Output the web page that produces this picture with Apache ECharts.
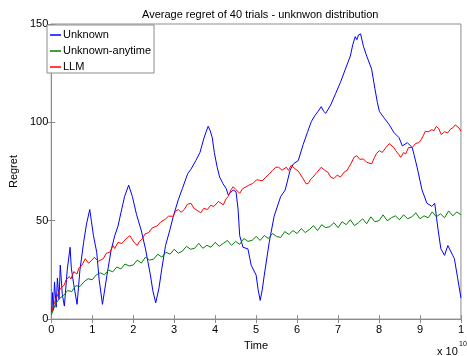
<!DOCTYPE html>
<html>
<head>
<meta charset="utf-8">
<title>Average regret</title>
<script src="https://cdn.jsdelivr.net/npm/echarts@6/dist/echarts.min.js"></script>
<style>
  html, body { margin: 0; padding: 0; background: #fff; }
  #root { width: 467px; height: 356px; }
</style>
</head>
<body>
<div id="root"></div>
<script>
// time axis in units of 1e10
var xTicks = [0, 1, 2, 3, 4, 5, 6, 7, 8, 9, 10];
var yTicks = [0, 50, 100, 150];

// Unknown (blue)
var unknownT = [0.01, 0.03, 0.05, 0.08, 0.12, 0.15, 0.19, 0.22, 0.27, 0.32, 0.39, 0.46, 0.49, 0.55, 0.63, 0.70, 0.79, 0.86, 0.94, 0.98,
  1.03, 1.11, 1.17, 1.25, 1.36, 1.46, 1.55, 1.63, 1.70, 1.79, 1.89, 1.98, 2.08, 2.20, 2.30, 2.42, 2.48, 2.55, 2.63, 2.70, 2.79, 2.90, 2.98,
  3.10, 3.20, 3.33, 3.41, 3.53, 3.63, 3.73, 3.78, 3.83, 3.88, 3.93, 3.98, 4.05, 4.11, 4.19, 4.27, 4.32, 4.44, 4.51, 4.56, 4.60, 4.68, 4.80, 4.88,
  5.00, 5.05, 5.10, 5.15, 5.20, 5.32, 5.44, 5.60, 5.71, 5.83, 5.91, 6.03, 6.15, 6.25, 6.35, 6.44, 6.51, 6.59, 6.65, 6.70, 6.82, 6.94,
  7.06, 7.18, 7.30, 7.36, 7.42, 7.46, 7.50, 7.55, 7.62, 7.70, 7.82, 7.90, 7.96, 8.01, 8.13, 8.25, 8.37, 8.49, 8.57, 8.69, 8.81, 8.86, 8.93,
  9.05, 9.17, 9.29, 9.36, 9.44, 9.51, 9.60, 9.68, 9.80, 9.84, 9.92, 10.0];
var unknownY = [3.5, 13.5, 4.5, 18.9, 6.0, 20.9, 10.0, 27.4, 12.5, 6.6, 24.9, 36.5, 25.9, 17.4, 7.5, 24.9, 39.0, 48.3, 55.7, 49.8,
  42.4, 34.0, 19.9, 7.5, 22.4, 34.9, 42.4, 47.3, 54.0, 62.3, 68.1, 62.3, 53.3, 44.8, 35.7, 22.4, 14.4, 8.3, 15.9, 25.8, 37.4, 45.7, 52.3,
  60.6, 66.3, 73.9, 76.2, 80.6, 84.7, 92.2, 95.2, 98.0, 95.7, 92.2, 84.7, 77.2, 72.2, 68.9, 66.3, 63.1, 65.6, 64.8, 55.8, 42.4, 36.5, 35.7, 27.4,
  22.4, 14.9, 9.5, 14.9, 22.4, 39.0, 52.3, 62.3, 65.6, 75.6, 78.9, 80.6, 88.8, 94.7, 100.5, 103.6, 105.5, 108.0, 105.6, 104.6, 108.8, 114.6,
  120.4, 127.1, 133.7, 139.5, 143.6, 142.0, 144.5, 145.0, 138.7, 133.7, 127.1, 117.1, 110.1, 105.5, 102.1, 98.8, 94.7, 92.2, 88.0, 89.7, 87.2, 83.2, 77.2,
  65.6, 58.9, 57.3, 58.9, 45.7, 35.7, 32.4, 37.4, 32.4, 30.7, 20.8, 10.8];

// Unknown-anytime (green)
var anytimeT = [0, 0.1, 0.2, 0.3, 0.4, 0.5, 0.6, 0.7, 0.8, 0.9, 1.0, 1.1, 1.2, 1.3, 1.4, 1.5, 1.6, 1.7, 1.8, 1.9,
  2.0, 2.1, 2.2, 2.3, 2.4, 2.5, 2.6, 2.7, 2.8, 2.9, 3.0, 3.1, 3.2, 3.3, 3.4, 3.5, 3.6, 3.7, 3.8, 3.9,
  4.0, 4.1, 4.2, 4.3, 4.4, 4.5, 4.6, 4.7, 4.8, 4.9, 5.0, 5.1, 5.2, 5.3, 5.4, 5.5, 5.6, 5.7, 5.8, 5.9,
  6.0, 6.1, 6.2, 6.3, 6.4, 6.5, 6.6, 6.7, 6.8, 6.9, 7.0, 7.1, 7.2, 7.3, 7.4, 7.5, 7.6, 7.7, 7.8, 7.9,
  8.0, 8.1, 8.2, 8.3, 8.4, 8.5, 8.6, 8.7, 8.8, 8.9, 9.0, 9.1, 9.2, 9.3, 9.4, 9.5, 9.6, 9.7, 9.8, 9.9, 10.0];
var anytimeY = [2, 7.5, 10.5, 12, 14.5, 14, 17, 16.5, 19, 20.5, 20, 22.5, 23.5, 22.5, 25, 24, 26.5, 25.5, 28, 27,
  27.5, 30, 28.5, 31.5, 30, 30.5, 33, 31.5, 34, 33, 35.5, 33.5, 34.5, 37, 35.5, 36, 38.5, 36, 37.5, 36.5,
  39, 37, 38.5, 40, 37.5, 39.5, 38, 41, 39.5, 40, 42, 40, 42.5, 41, 43.5, 42, 41.5, 44.5, 43, 45,
  43.5, 46, 44, 45.5, 47.5, 45, 48, 46.5, 47, 49, 46.5, 49.5, 48, 50.5, 47.5, 49, 51, 48.5, 52, 49.5,
  50, 53, 50, 51.5, 52.5, 50.5, 53, 51, 52, 54, 51, 52.5, 51.5, 54.5, 52, 53.5, 51.5, 55, 52.5, 54.5, 53];

// LLM (red)
var llmT = [0.01, 0.08, 0.16, 0.22, 0.32, 0.36, 0.44, 0.48, 0.55, 0.63, 0.67, 0.75, 0.83, 0.91, 0.99, 1.05, 1.15, 1.27, 1.34, 1.43,
  1.51, 1.55, 1.63, 1.72, 1.82, 1.92, 2.02, 2.10, 2.15, 2.22, 2.29, 2.38, 2.46, 2.58, 2.67, 2.78, 2.86, 2.98, 3.03, 3.10,
  3.17, 3.25, 3.32, 3.41, 3.48, 3.53, 3.65, 3.72, 3.81, 3.89, 3.97, 4.08, 4.20, 4.27, 4.32, 4.39, 4.44, 4.51, 4.60, 4.67,
  4.76, 4.84, 4.92, 5.01, 5.08, 5.15, 5.24, 5.32, 5.40, 5.48, 5.55, 5.63, 5.67, 5.74, 5.79, 5.86, 5.95, 6.03, 6.07, 6.15,
  6.22, 6.27, 6.34, 6.39, 6.49, 6.59, 6.67, 6.75, 6.82, 6.90, 6.98, 7.06, 7.15, 7.22, 7.32, 7.39, 7.46, 7.53, 7.62, 7.70,
  7.82, 7.89, 7.94, 8.01, 8.08, 8.17, 8.25, 8.29, 8.36, 8.41, 8.48, 8.53, 8.60, 8.65, 8.72, 8.81, 8.89, 8.97, 9.03, 9.08,
  9.13, 9.20, 9.29, 9.34, 9.40, 9.46, 9.52, 9.60, 9.68, 9.75, 9.80, 9.86, 9.90, 9.95, 10.0];
var llmY = [3.5, 8.5, 12.5, 15.4, 17.4, 19.9, 21.6, 20.4, 24.1, 22.9, 25.8, 27.4, 30.7, 28.4, 29.9, 31.4, 29.4, 30.7, 33.4, 34.0,
  37.4, 35.9, 39.0, 38.4, 40.7, 42.4, 39.0, 37.4, 39.4, 40.7, 43.3, 44.0, 46.3, 47.3, 49.3, 50.7, 52.3, 52.3, 54.8, 55.7,
  54.3, 55.7, 58.3, 58.9, 56.3, 55.7, 54.0, 56.3, 55.7, 57.8, 57.3, 59.8, 58.1, 61.3, 62.3, 65.8, 67.3, 65.8, 63.9, 66.3,
  67.3, 68.3, 68.9, 70.8, 70.6, 70.3, 72.2, 73.7, 75.6, 77.2, 77.2, 75.7, 74.7, 77.2, 75.6, 78.2, 76.4, 75.2, 73.9, 71.3,
  68.8, 68.9, 71.3, 72.2, 74.7, 77.2, 75.7, 74.7, 72.2, 71.4, 73.2, 72.2, 74.7, 75.6, 79.2, 82.2, 83.1, 81.2, 81.4, 79.7,
  78.9, 82.2, 84.2, 85.6, 84.7, 87.2, 89.2, 88.8, 87.2, 85.6, 83.7, 82.2, 84.7, 83.9, 87.2, 87.2, 89.2, 89.7, 91.2, 93.2,
  95.5, 95.2, 96.3, 95.7, 98.0, 96.7, 93.8, 95.2, 94.7, 96.7, 97.2, 98.7, 99.6, 97.2, 95.5];

function pairs(t, y) {
  var out = [];
  for (var i = 0; i < t.length; i++) out.push([t[i], y[i]]);
  return out;
}

var myChart = echarts.init(document.getElementById('root'));
var fontFamily = 'Liberation Sans, Arial, sans-serif';
var frame = '#8c8c8c';

var option = {
  animation: false,
  color: ['#0000ff', '#008000', '#ff0000'],
  textStyle: { fontFamily: fontFamily },
  title: {
    text: 'Average regret of 40 trials - unknwon distribution',
    left: 137,
    top: 4,
    textStyle: { fontSize: 11, fontWeight: 'normal', color: '#000', fontFamily: fontFamily }
  },
  grid: { left: 46, right: 1, top: 24, bottom: 31, show: true, borderColor: frame, borderWidth: 1 },
  legend: {
    data: ['Unknown', 'Unknown-anytime', 'LLM'],
    orient: 'vertical',
    left: 47,
    top: 25,
    padding: [4, 3, 0, 3],
    itemGap: 4,
    itemWidth: 11,
    itemHeight: 1.5,
    icon: 'rect',
    backgroundColor: '#fff',
    borderColor: frame,
    borderWidth: 1,
    borderRadius: 0,
    textStyle: { fontSize: 11, color: '#000', fontFamily: fontFamily, lineHeight: 12, padding: [0, 0, 0, -3] }
  },
  xAxis: [{
    type: 'value',
    min: xTicks[0],
    max: xTicks[xTicks.length - 1],
    interval: 1,
    name: 'Time',
    nameLocation: 'middle',
    nameGap: 15,
    nameTextStyle: { fontSize: 11, color: '#000' },
    axisLine: { show: true, lineStyle: { color: frame } },
    axisTick: { inside: true, length: 4, lineStyle: { color: frame } },
    axisLabel: {
      fontSize: 11, color: '#000', margin: 5,
      formatter: function (v) { return v === 10 ? '1' : String(v); }
    },
    splitLine: { show: false }
  }, {
    type: 'value',
    position: 'top',
    min: xTicks[0],
    max: xTicks[xTicks.length - 1],
    interval: 1,
    axisLine: { show: false },
    axisTick: { inside: true, length: 4, lineStyle: { color: frame } },
    axisLabel: { show: false },
    splitLine: { show: false }
  }],
  yAxis: [{
    type: 'value',
    min: yTicks[0],
    max: yTicks[yTicks.length - 1],
    interval: 50,
    name: 'Regret',
    nameLocation: 'middle',
    nameGap: 28,
    nameTextStyle: { fontSize: 11, color: '#000' },
    axisLine: { show: true, lineStyle: { color: frame } },
    axisTick: { inside: true, length: 4, lineStyle: { color: frame } },
    axisLabel: { fontSize: 11, color: '#000', margin: 3 },
    splitLine: { show: false }
  }, {
    type: 'value',
    position: 'right',
    min: yTicks[0],
    max: yTicks[yTicks.length - 1],
    interval: 50,
    axisLine: { show: false },
    axisTick: { inside: true, length: 4, lineStyle: { color: frame } },
    axisLabel: { show: false },
    splitLine: { show: false }
  }],
  graphic: [
    { type: 'text', left: 437, top: 346, style: { text: 'x 10', fontSize: 11, fill: '#000', fontFamily: fontFamily } },
    { type: 'text', left: 459, top: 341, style: { text: '10', fontSize: 7, fill: '#000', fontFamily: fontFamily } }
  ],
  series: [{
    name: 'Unknown',
    type: 'line',
    showSymbol: false,
    lineStyle: { width: 1 },
    data: pairs(unknownT, unknownY)
  }, {
    name: 'Unknown-anytime',
    type: 'line',
    showSymbol: false,
    lineStyle: { width: 1 },
    data: pairs(anytimeT, anytimeY)
  }, {
    name: 'LLM',
    type: 'line',
    showSymbol: false,
    lineStyle: { width: 1 },
    data: pairs(llmT, llmY)
  }]
};
myChart.setOption(option);
</script>
</body>
</html>
